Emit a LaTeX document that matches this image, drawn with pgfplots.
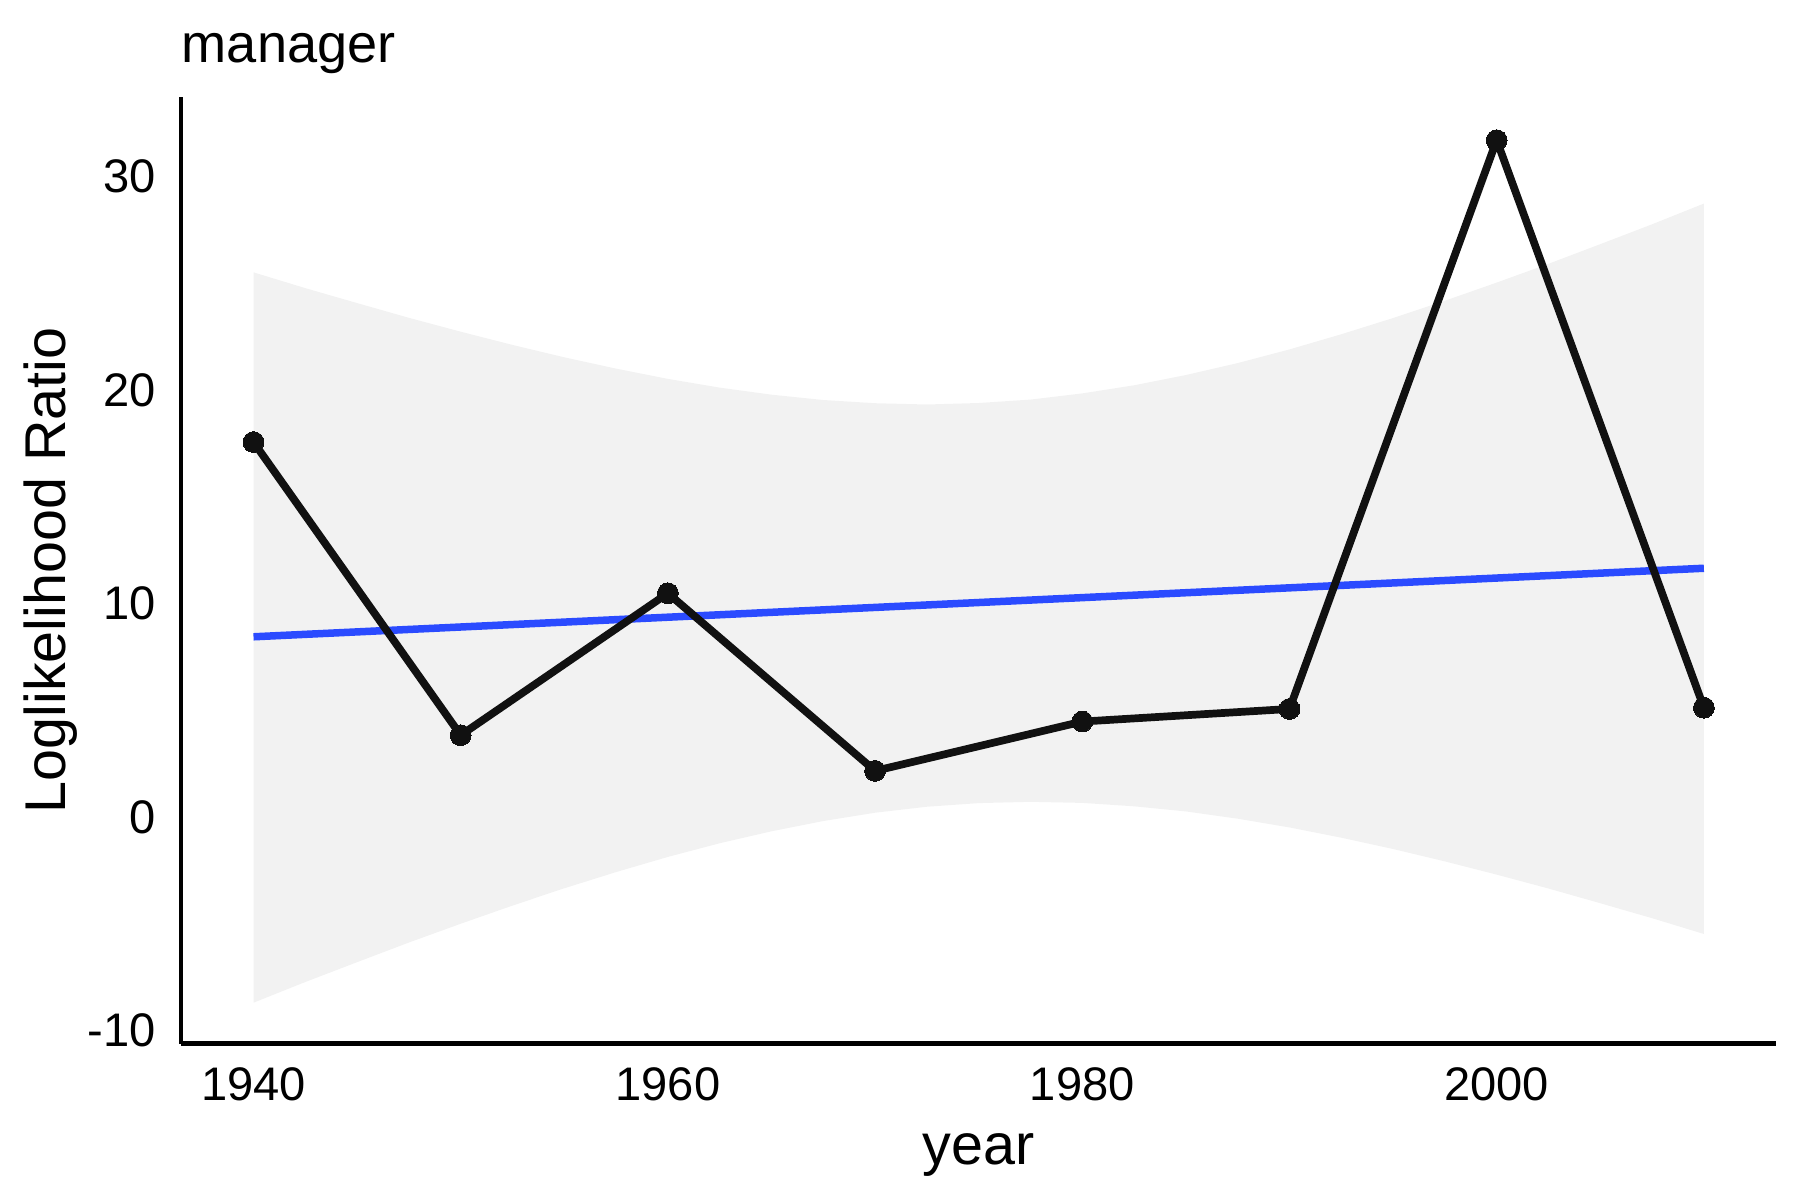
\documentclass[border=0pt]{standalone}
\usepackage{fontspec}
\setmainfont{Liberation Sans}
\usepackage{pgfplots}
\pgfplotsset{compat=1.18}
\definecolor{bandgray}{HTML}{F2F2F2}
\definecolor{fitblue}{HTML}{2B4BFF}
\definecolor{linedark}{HTML}{111111}
\begin{document}
\begin{tikzpicture}
\begin{axis}[
  at={(0,0)}, anchor=south west,
  scale only axis, width=382.9pt, height=227.1pt,
  xmin=1936.5, xmax=2013.5, ymin=-10.6, ymax=33.72,
  axis lines*=left,
  axis line style={-, line width=1pt, black},
  xtick={1940,1960,1980,2000}, xticklabels={1940,1960,1980,2000},
  ytick={-10,0,10,20,30}, yticklabels={-10,0,10,20,30},
  major tick length=0pt, tick style={draw=none},
  xticklabel style={font=\fontsize{11.3}{13}\selectfont, inner sep=0pt, anchor=north, yshift=-5.5pt},
  yticklabel style={font=\fontsize{11.3}{13}\selectfont, inner sep=0pt, anchor=east, xshift=-5.8pt},
  xlabel={year}, ylabel={Loglikelihood Ratio},
  xlabel style={font=\fontsize{13.8}{16}\selectfont, inner sep=0pt, at={(axis description cs:0.5,-0.1281)}, anchor=base},
  ylabel style={font=\fontsize{13.8}{16}\selectfont, inner sep=0pt, at={(axis description cs:-0.0726,0.5)}, anchor=base},
  title={manager},
  title style={font=\fontsize{13}{15}\selectfont, inner sep=0pt, at={(axis description cs:0,1.0099)}, anchor=base west},
  clip=false,
]
% confidence band (upper forward, lower backward)
\addplot[draw=none, fill=bandgray] coordinates {
 (1940,25.52) (1942.5,24.78) (1945,24.08) (1947.5,23.39) (1950,22.74)
 (1952.5,22.12) (1955,21.54) (1957.5,21.01) (1960,20.53) (1962.5,20.12)
 (1965,19.79) (1967.5,19.54) (1970,19.39) (1972.5,19.33) (1975,19.40)
 (1977.5,19.56) (1980,19.85) (1982.5,20.23) (1985,20.71) (1987.5,21.27)
 (1990,21.91) (1992.5,22.62) (1995,23.38) (1997.5,24.19) (2000,25.04)
 (2002.5,25.92) (2005,26.84) (2007.5,27.77) (2010,28.74)
 (2010,-5.47) (2007.5,-4.73) (2005,-4.03) (2002.5,-3.34) (2000,-2.69)
 (1997.5,-2.07) (1995,-1.49) (1992.5,-0.96) (1990,-0.48) (1987.5,-0.07)
 (1985,0.27) (1982.5,0.51) (1980,0.67) (1977.5,0.72) (1975,0.66)
 (1972.5,0.49) (1970,0.21) (1967.5,-0.18) (1965,-0.66) (1962.5,-1.22)
 (1960,-1.86) (1957.5,-2.57) (1955,-3.33) (1952.5,-4.14) (1950,-4.99)
 (1947.5,-5.87) (1945,-6.79) (1942.5,-7.72) (1940,-8.69)
} -- cycle;
% linear fit
\addplot[fitblue, line width=1.8pt] coordinates {(1940,8.45) (2010,11.66)};
% data
\addplot[linedark, line width=1.85pt, line join=round, mark=*, mark size=2.5pt,
  mark options={solid, fill=linedark, draw=linedark, line width=0pt}] coordinates {
 (1940,17.57) (1950,3.84) (1960,10.49) (1970,2.17) (1980,4.48) (1990,5.07) (2000,31.71) (2010,5.13)
};
\end{axis}
\pgfresetboundingbox
\path[use as bounding box] (-43.44pt,-37.5pt) rectangle (388.56pt,250.45pt);
\end{tikzpicture}
\end{document}
